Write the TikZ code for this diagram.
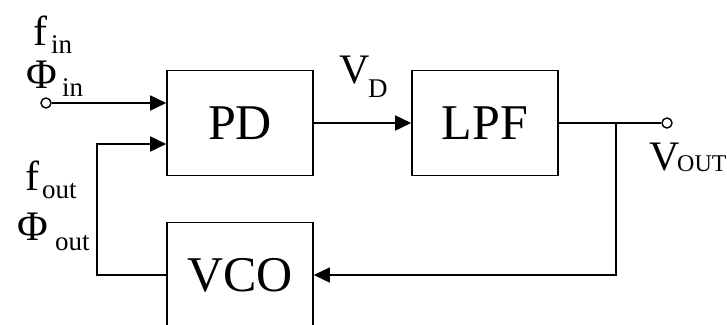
\documentclass[tikz,border=0pt]{standalone}
\usepackage{fontspec}
\setmainfont{Liberation Serif}
\usetikzlibrary{arrows.meta}
\begin{document}
\begin{tikzpicture}[x=1pt,y=-1pt,
  blockbox/.style={draw,line width=1.6pt,minimum width=146pt,minimum height=105pt,inner sep=0pt,font=\fontsize{50}{58}\selectfont},
  wire/.style={line width=1.6pt},
  arr/.style={wire,-{Triangle[length=16pt,width=15pt]}},
  term/.style={circle,draw,line width=1.4pt,fill=white,minimum size=10pt,inner sep=0pt},
  big/.style={anchor=base west,inner sep=0pt,font=\fontsize{42}{46}\selectfont},
  sub/.style={anchor=base west,inner sep=0pt,font=\fontsize{27}{31}\selectfont}
]
\useasboundingbox (0,0) rectangle (727,324);
\clip (0,0) rectangle (727,324);
\node[blockbox] (PD) at (240,123) {PD};
\node[blockbox] (LPF) at (485,123) {LPF};
\node[blockbox] (VCO) at (240,275) {VCO};
\node[term] (in) at (46,103) {};
\node[term] (out) at (667,123) {};
\coordinate (j) at (616,123);
\coordinate (fb) at (97,144);
% connectors
\draw[arr] (in.east) -- (in -| PD.west);
\draw[arr] (PD.east) -- (LPF.west);
\draw[wire] (LPF.east) -- (out.west);
\draw[arr] (j) |- (VCO.east);
\draw[arr] (VCO.west) -| (fb) -- (fb -| PD.west);
% labels
\node[big] (fin) at (33,45) {f};
\node[sub] (finsub) at (51,53) {in};
\node[big] (phin) at (26,88) {Φ};
\node[sub] (phinsub) at (62,96) {in};
\node[big] (fout) at (25,190) {f};
\node[sub] (foutsub) at (42,198) {out};
\node[big] (phout) at (17,240) {Φ};
\node[sub] (phoutsub) at (55,250) {out};
\node[big] (vd) at (339,83) {V};
\node[sub] (vdsub) at (368,97) {D};
\node[big] (vo) at (649,170) {V};
\node[sub,font=\fontsize{24}{28}\selectfont] (vosub) at (677,171) {OUT};
\end{tikzpicture}
\end{document}
